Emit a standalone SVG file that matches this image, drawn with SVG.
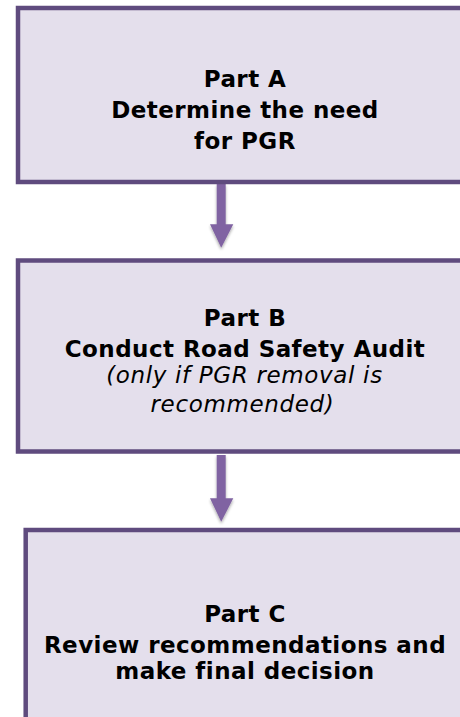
<svg xmlns="http://www.w3.org/2000/svg" width="460" height="717" viewBox="0 0 460 717">
<defs>
<style>
.box{fill:#e4dfec;stroke:#5f4b7e;stroke-width:4.5}
.t{font-family:"DejaVu Sans",Verdana,sans-serif;font-size:23px;fill:#000;text-anchor:middle}
.b{font-weight:bold;letter-spacing:0.45px}
.i{font-style:italic;letter-spacing:0.65px}
.arrow{fill:#8064a2}
</style>
<filter id="sh" x="-50%" y="-20%" width="200%" height="150%">
<feGaussianBlur in="SourceAlpha" stdDeviation="1.5"/>
<feOffset dx="0" dy="2" result="o"/>
<feComponentTransfer><feFuncA type="linear" slope="0.35"/></feComponentTransfer>
<feMerge><feMergeNode/><feMergeNode in="SourceGraphic"/></feMerge>
</filter>
</defs>
<g id="connectors">
<path class="arrow" filter="url(#sh)" d="M216.7 184 H225.7 V224.3 H233.3 L221.2 247.7 L210 224.3 H216.7 Z"/>
<path class="arrow" filter="url(#sh)" d="M216.7 455 H225.7 V498.3 H233.3 L221.2 521.7 L210 498.3 H216.7 Z"/>
</g>
<g id="nodeA">
<rect class="box" x="18" y="8" width="460" height="174"/>
<text class="t b" x="245" y="86.7">Part A</text>
<text class="t b" x="245" y="118.3">Determine the need</text>
<text class="t b" x="245" y="149.3">for PGR</text>
</g>
<g id="nodeB">
<rect class="box" x="18" y="260.5" width="460" height="191"/>
<text class="t b" x="245" y="326">Part B</text>
<text class="t b" x="245" y="356.7">Conduct Road Safety Audit</text>
<text class="t i" x="244.5" y="383.3">(only if PGR removal is</text>
<text class="t i" x="242.5" y="411.7">recommended)</text>
</g>
<g id="nodeC">
<rect class="box" x="25.7" y="530" width="460" height="220"/>
<text class="t b" x="245" y="621.7">Part C</text>
<text class="t b" x="245" y="653.3">Review recommendations and</text>
<text class="t b" x="245" y="679.3">make final decision</text>
</g>
</svg>
